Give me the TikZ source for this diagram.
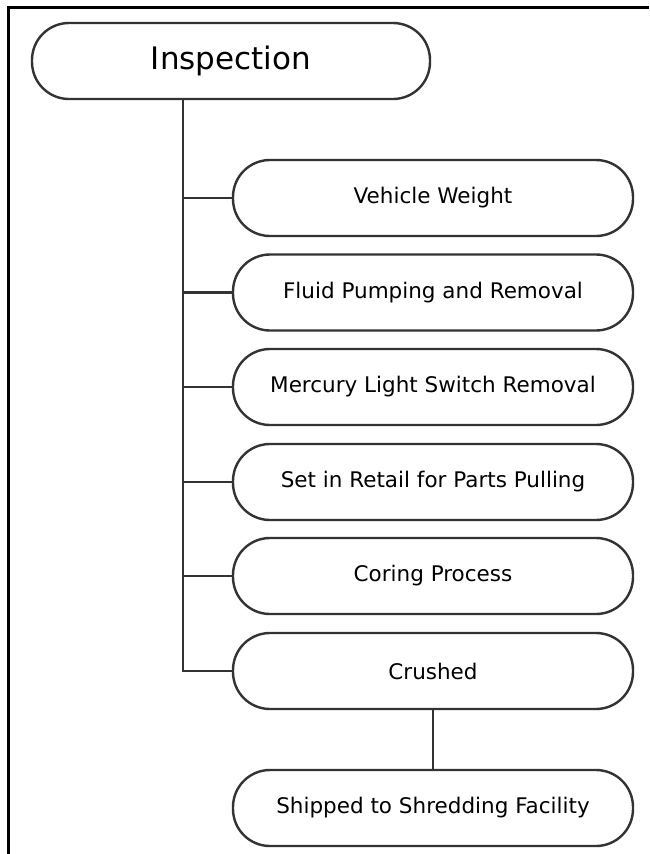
\documentclass[tikz,border=0pt]{standalone}
\usepackage{fontspec}
\setmainfont{DejaVu Sans}
\begin{document}
\begin{tikzpicture}[x=1pt,y=-1pt,
  pill/.style={draw=boxline, line width=2.4pt, rounded corners=37pt, fill=white,
    minimum width=400pt, minimum height=76pt, inner sep=0pt, text=black,
    font=\fontsize{21.5}{25}\selectfont},
  bigpill/.style={pill, minimum width=398pt, font=\fontsize{31}{36}\selectfont},
  conn/.style={draw=boxline, line width=2.4pt},
  frameline/.style={draw=black, line width=2.8pt}]
\definecolor{boxline}{HTML}{333333}
\useasboundingbox (0,0) rectangle (649,854);
\draw[frameline] (8.3,856) -- (8.3,7.3) -- (649,7.3);
\node[bigpill] (insp) at (231,61) {Inspection};
\node[pill] (vw) at (433,198) {Vehicle Weight};
\node[pill] (fp) at (433,292.5) {Fluid Pumping and Removal};
\node[pill] (ml) at (433,387) {Mercury Light Switch Removal};
\node[pill] (sr) at (433,482) {Set in Retail for Parts Pulling};
\node[pill] (cp) at (433,576) {Coring Process};
\node[pill] (cr) at (433,671) {Crushed};
\node[pill] (sh) at (433,808) {Shipped to Shredding Facility};
\coordinate (trunk) at (insp.south -| 183,0);
\draw[conn] (trunk) |- (cr.west);
\foreach \n in {vw,fp,ml,sr,cp}{
  \draw[conn] (\n.west) -- (\n.west -| trunk);
}
\draw[conn] (cr.south) -- (sh.north);
\end{tikzpicture}
\end{document}
